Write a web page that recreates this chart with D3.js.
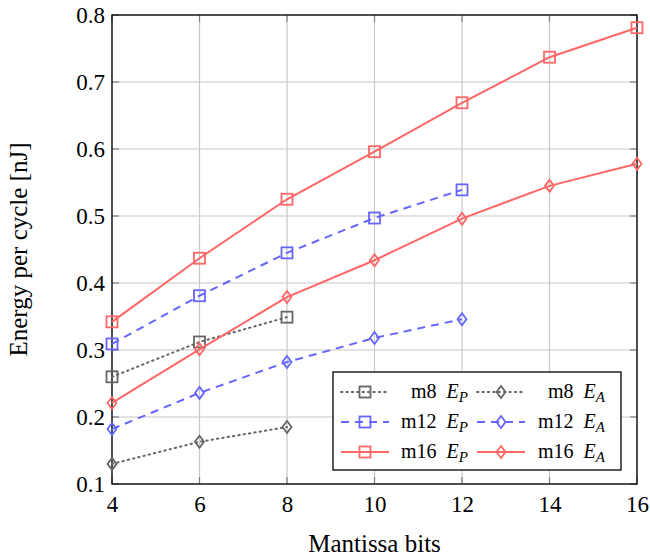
<!DOCTYPE html>
<html lang="en">
<head>
<meta charset="UTF-8">
<script src="https://d3js.org/d3.v7.min.js"></script>
<title>Energy per cycle</title>
<style>
  body { margin: 0; background: #fff; }
  text { font-family: "Liberation Serif", "DejaVu Serif", serif; }
</style>
</head>
<body>
<script>
// data
const xTicks = [4, 6, 8, 10, 12, 14, 16];
const yTicks = [0.1, 0.2, 0.3, 0.4, 0.5, 0.6, 0.7, 0.8];

const bits8 = [4, 6, 8];
const bits12 = [4, 6, 8, 10, 12];
const bits16 = [4, 6, 8, 10, 12, 14, 16];

const m8EP = [0.260, 0.312, 0.349];
const m8EA = [0.130, 0.163, 0.185];
const m12EP = [0.309, 0.381, 0.445, 0.497, 0.539];
const m12EA = [0.182, 0.236, 0.282, 0.318, 0.346];
const m16EP = [0.342, 0.437, 0.525, 0.596, 0.669, 0.737, 0.781];
const m16EA = [0.221, 0.301, 0.379, 0.434, 0.496, 0.545, 0.578];

const gray = "rgb(102,102,102)", blue = "rgb(102,102,255)", red = "rgb(255,102,102)";
const dotted = "1.4,4", dashed = "8,6", solid = null;

const series = [
  {name: "m8", sub: "P", xs: bits8, ys: m8EP, color: gray, dash: dotted, mark: "square"},
  {name: "m8", sub: "A", xs: bits8, ys: m8EA, color: gray, dash: dotted, mark: "diamond"},
  {name: "m12", sub: "P", xs: bits12, ys: m12EP, color: blue, dash: dashed, mark: "square"},
  {name: "m12", sub: "A", xs: bits12, ys: m12EA, color: blue, dash: dashed, mark: "diamond"},
  {name: "m16", sub: "P", xs: bits16, ys: m16EP, color: red, dash: solid, mark: "square"},
  {name: "m16", sub: "A", xs: bits16, ys: m16EA, color: red, dash: solid, mark: "diamond"}
];

const W = 650, H = 559;
const pLeft = 112, pRight = 637, pTop = 15, pBottom = 484;

const svg = d3.select("body").append("svg").attr("width", W).attr("height", H);

const x = d3.scaleLinear().domain([4, 16]).range([pLeft, pRight]);
const y = d3.scaleLinear().domain([0.1, 0.8]).range([pBottom, pTop]);

// grid
svg.append("g").selectAll("line").data(xTicks).join("line")
  .attr("x1", d => x(d)).attr("x2", d => x(d)).attr("y1", pTop).attr("y2", pBottom)
  .attr("stroke", "#c8c8c8").attr("stroke-width", 1.2);
svg.append("g").selectAll("line").data(yTicks).join("line")
  .attr("x1", pLeft).attr("x2", pRight).attr("y1", d => y(d)).attr("y2", d => y(d))
  .attr("stroke", "#c8c8c8").attr("stroke-width", 1.2);

// inner ticks on all four sides
const tl = 7;
const tickG = svg.append("g").attr("stroke", "#808080").attr("stroke-width", 1.2);
xTicks.forEach(t => {
  tickG.append("line").attr("x1", x(t)).attr("x2", x(t)).attr("y1", pBottom).attr("y2", pBottom - tl);
  tickG.append("line").attr("x1", x(t)).attr("x2", x(t)).attr("y1", pTop).attr("y2", pTop + tl);
});
yTicks.forEach(t => {
  tickG.append("line").attr("x1", pLeft).attr("x2", pLeft + tl).attr("y1", y(t)).attr("y2", y(t));
  tickG.append("line").attr("x1", pRight).attr("x2", pRight - tl).attr("y1", y(t)).attr("y2", y(t));
});

// tick labels via axes (lines hidden)
const xAxis = svg.append("g").attr("transform", `translate(0,${pBottom})`)
  .call(d3.axisBottom(x).tickValues(xTicks).tickSize(0).tickPadding(8).tickFormat(d3.format("d")));
const yAxis = svg.append("g").attr("transform", `translate(${pLeft},0)`)
  .call(d3.axisLeft(y).tickValues(yTicks).tickSize(0).tickPadding(7).tickFormat(d3.format(".1f")));
[xAxis, yAxis].forEach(a => {
  a.select(".domain").remove();
  a.selectAll("text").attr("font-size", 23).attr("fill", "#000")
    .style("font-family", "'Liberation Serif', 'DejaVu Serif', serif");
});
xAxis.selectAll("text").attr("dy", "0.85em");

// frame
svg.append("rect").attr("x", pLeft).attr("y", pTop).attr("width", pRight - pLeft).attr("height", pBottom - pTop)
  .attr("fill", "none").attr("stroke", "#000").attr("stroke-width", 1.3);

// lines + markers
const line = d3.line().x(d => x(d[0])).y(d => y(d[1]));

function drawMark(g, kind, cx, cy, color) {
  if (kind === "square") {
    g.append("rect").attr("x", cx - 5.5).attr("y", cy - 5.5).attr("width", 11).attr("height", 11)
      .attr("fill", "none").attr("stroke", color).attr("stroke-width", 1.8);
  } else {
    g.append("path").attr("d", `M${cx},${cy - 6}L${cx + 4.5},${cy}L${cx},${cy + 6}L${cx - 4.5},${cy}Z`)
      .attr("fill", "none").attr("stroke", color).attr("stroke-width", 1.8);
  }
}

series.forEach(s => {
  const pts = s.xs.map((v, i) => [v, s.ys[i]]);
  const g = svg.append("g");
  g.append("path").attr("d", line(pts)).attr("fill", "none")
    .attr("stroke", s.color).attr("stroke-width", 2)
    .attr("stroke-dasharray", s.dash).attr("stroke-linecap", s.dash === dotted ? "round" : "butt");
  pts.forEach(p => drawMark(g, s.mark, x(p[0]), y(p[1]), s.color));
});

// legend
const lg = svg.append("g");
lg.append("rect").attr("x", 333).attr("y", 372).attr("width", 288).attr("height", 98)
  .attr("fill", "#fff").attr("stroke", "#000").attr("stroke-width", 1.3);
series.forEach((s, i) => {
  const col = i % 2, row = Math.floor(i / 2);
  const cy = 392 + row * 30;
  const mx = col === 0 ? 365 : 501;
  const tx = col === 0 ? 468 : 605;
  lg.append("line").attr("x1", mx - 24).attr("x2", mx + 24).attr("y1", cy).attr("y2", cy)
    .attr("stroke", s.color).attr("stroke-width", 2)
    .attr("stroke-dasharray", s.dash).attr("stroke-linecap", s.dash === dotted ? "round" : "butt");
  drawMark(lg, s.mark, mx, cy, s.color);
  const t = lg.append("text").attr("x", tx).attr("y", cy + 6).attr("text-anchor", "end")
    .attr("font-size", 20).attr("fill", "#000");
  t.append("tspan").text(s.name + "\u2002");
  t.append("tspan").attr("font-style", "italic").text("E");
  t.append("tspan").attr("font-style", "italic").attr("font-size", 15).attr("dy", 4).text(s.sub);
});

// axis titles
svg.append("text").attr("x", (pLeft + pRight) / 2).attr("y", 552).attr("text-anchor", "middle")
  .attr("font-size", 25).text("Mantissa bits");
svg.append("text").attr("transform", `translate(27,${(pTop + pBottom) / 2}) rotate(-90)`)
  .attr("text-anchor", "middle").attr("font-size", 25).text("Energy per cycle [nJ]");
</script>
</body>
</html>
